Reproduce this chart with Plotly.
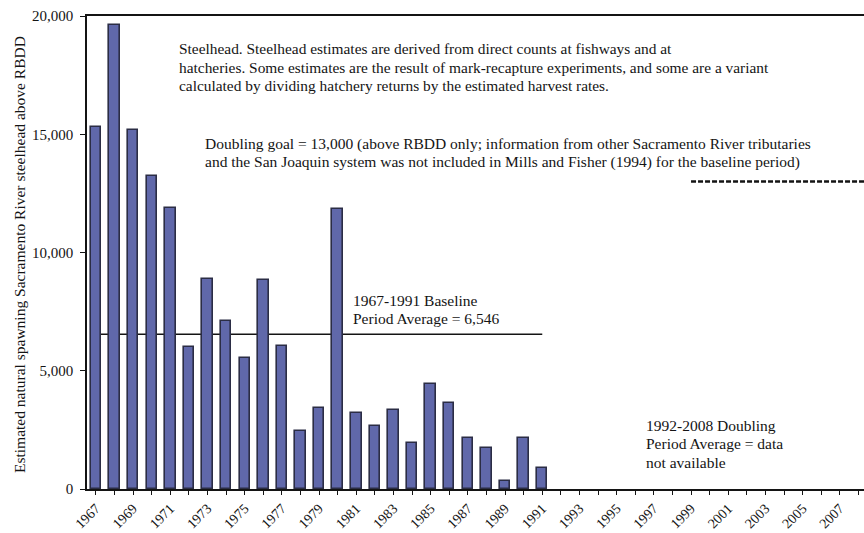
import plotly.graph_objects as go

# ---- data ----
years = list(range(1967, 1992))
spawners = [15300, 19600, 15200, 13250, 11900, 6000, 8880, 7100, 5550, 8830,
            6040, 2450, 3420, 11860, 3210, 2660, 3340, 1940, 4420, 3640,
            2150, 1740, 330, 2150, 880]
axis_years = list(range(1967, 2009))
axis_labels = [str(y) if y % 2 == 1 else "" for y in axis_years]
y_ticks = [0, 5000, 10000, 15000, 20000]
BASELINE_AVG = 6546
BASELINE_START, BASELINE_END = 1967, 1991
GOAL = 13000
GOAL_START, GOAL_END = 1999, 2008.3

FONT = "Liberation Serif, Times New Roman, serif"
INK = "#141414"

fig = go.Figure()

fig.add_trace(go.Bar(
    x=years, y=spawners, width=0.56,
    marker=dict(color="#6068aa", line=dict(color="#2b2d45", width=1.6)),
    showlegend=False, hoverinfo="skip",
))

# baseline average (behind bars)
fig.add_shape(type="line", xref="x", yref="y", layer="below",
              x0=BASELINE_START, x1=BASELINE_END, y0=BASELINE_AVG, y1=BASELINE_AVG,
              line=dict(color=INK, width=1.6))
# doubling goal dashed
fig.add_shape(type="line", xref="x", yref="y",
              x0=GOAL_START, x1=GOAL_END, y0=GOAL, y1=GOAL,
              line=dict(color=INK, width=2.6, dash="5px,2px"))

PLOT_TOP, PLOT_BOTTOM, PLOT_LEFT, PLOT_W = 16, 489, 87, 777


def note(lines, xpx, ypx_list, size):
    for text, ypx in zip(lines, ypx_list):
        fig.add_annotation(text=text, xref="paper", yref="paper",
                           x=(xpx - PLOT_LEFT) / PLOT_W,
                           y=(PLOT_BOTTOM - ypx) / (PLOT_BOTTOM - PLOT_TOP),
                           xanchor="left", yanchor="middle", align="left",
                           showarrow=False,
                           font=dict(family=FONT, size=size, color=INK))


note(["Steelhead. Steelhead estimates are derived from direct counts at fishways and at",
      "hatcheries. Some estimates are the result of mark-recapture experiments, and some are a variant",
      "calculated by dividing hatchery returns by the estimated harvest rates."],
     177, [48, 67, 85.5], 15.4)
note(["Doubling goal = 13,000 (above RBDD only; information from other Sacramento River tributaries",
      "and the San Joaquin system was not included in Mills and Fisher (1994) for the baseline period)"],
     203, [144, 162], 15.5)
note(["1967-1991 Baseline", "Period Average = 6,546"], 351, [300, 318], 15.5)
note(["1992-2008 Doubling", "Period Average = data", "not available"], 644,
     [425, 443, 462], 15.5)

fig.add_annotation(text="Estimated natural spawning Sacramento River steelhead above RBDD",
                   xref="paper", yref="paper", x=(20 - PLOT_LEFT) / PLOT_W,
                   y=(PLOT_BOTTOM - 255) / (PLOT_BOTTOM - PLOT_TOP), textangle=-90,
                   xanchor="center", yanchor="middle", showarrow=False,
                   font=dict(family=FONT, size=15.5, color=INK))

fig.update_layout(
    width=864, height=533,
    margin=dict(l=87, r=0, t=16, b=44),
    paper_bgcolor="white", plot_bgcolor="white",
    font=dict(family=FONT, color=INK),
    bargap=0,
    xaxis=dict(range=[1966.52, 2008.3], tickmode="array", tickvals=axis_years,
               ticktext=axis_labels, tickangle=-45, ticks="outside", ticklen=4,
               tickcolor=INK, showline=True, linecolor=INK, linewidth=1.6,
               mirror=True, showgrid=False, zeroline=False, automargin=False,
               showspikes=False,
               tickfont=dict(family=FONT, size=14, color=INK)),
    yaxis=dict(range=[0, 20000], tickmode="array", tickvals=y_ticks,
               tickformat=",", ticks="outside", ticklen=5, tickcolor=INK,
               showline=True, linecolor=INK, linewidth=1.6, showgrid=False,
               zeroline=False, ticklabelstandoff=4, automargin=False,
               showspikes=False,
               tickfont=dict(family=FONT, size=15, color=INK)),
    hovermode=False,
)

fig.write_html("out.html", config={"displayModeBar": False},
               post_script="document.body.style.margin='0';document.body.style.overflow='hidden';")
